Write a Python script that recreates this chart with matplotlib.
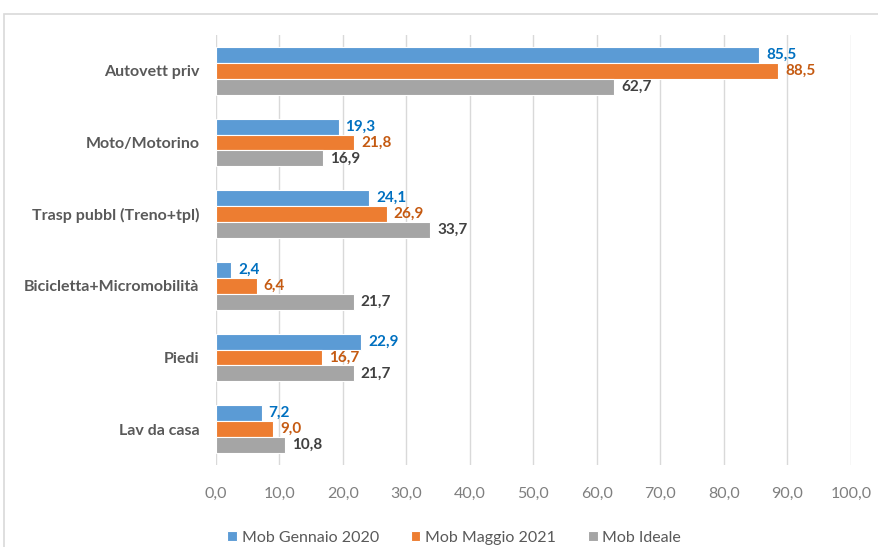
import numpy as np
import matplotlib
matplotlib.use('Agg')
import matplotlib.pyplot as plt
from matplotlib.patches import Rectangle

categories = ['Autovett priv', 'Moto/Motorino', 'Trasp pubbl (Treno+tpl)',
              'Bicicletta+Micromobilità', 'Piedi', 'Lav da casa']
gennaio_2020 = [85.5, 19.3, 24.1, 2.4, 22.9, 7.2]
maggio_2021 = [88.5, 21.8, 26.9, 6.4, 16.7, 9.0]
ideale = [62.7, 16.9, 33.7, 21.7, 21.7, 10.8]
series_names = ['Mob Gennaio 2020', 'Mob Maggio 2021', 'Mob Ideale']
x_ticks = np.arange(0, 101, 10)

bar_colors = ['#5B9BD5', '#ED7D31', '#A5A5A5']
label_colors = ['#0070C0', '#C55A11', '#404040']

plt.rcParams['font.family'] = ['Lato', 'DejaVu Sans']

fig = plt.figure(figsize=(8.79, 5.47), dpi=100)
ax = fig.add_axes([216/879, 1-465/547, (851-216)/879, (465-35)/547])

# chart border (cut off at right/bottom like the screenshot)
fig.patches.append(Rectangle((4/879, -0.1), 1.2, 1-14/547+0.1, transform=fig.transFigure,
                             fill=False, edgecolor='#D9D9D9', linewidth=1.2))

y = np.arange(len(categories))
h = 0.222
data = [gennaio_2020, maggio_2021, ideale]
for i, vals in enumerate(data):
    pos = y + (i - 1) * h
    ax.barh(pos, vals, height=h, color=bar_colors[i], edgecolor='white',
            linewidth=0.8, label=series_names[i], zorder=3)
    for p, v in zip(pos, vals):
        ax.text(v + 1.1, p, f'{v:.1f}'.replace('.', ','), va='center', ha='left',
                fontsize=11, fontweight='bold', color=label_colors[i], zorder=4)

ax.set_xlim(0, 100)
ax.set_ylim(len(categories) - 0.5, -0.5)
ax.set_xticks(x_ticks)
ax.set_xticklabels([f'{t:.1f}'.replace('.', ',') for t in x_ticks],
                   fontsize=11.5, color='#7F7F7F')
ax.set_yticks(y)
ax.set_yticklabels(categories, fontsize=11.5, fontweight='bold', color='#595959')
ax.tick_params(axis='both', length=0)
ax.tick_params(axis='x', pad=16)
ax.tick_params(axis='y', pad=12)
ax.grid(axis='x', color='#D9D9D9', linewidth=1, zorder=0)
for s in ax.spines.values():
    s.set_visible(False)

ax.legend(loc='upper center', bbox_to_anchor=(0.375, -0.12), ncol=3, frameon=False,
          fontsize=11.5, handlelength=0.6, handleheight=0.6, handletextpad=0.3,
          columnspacing=2.0, labelcolor='#595959')

fig.savefig('out.png', dpi=100)
